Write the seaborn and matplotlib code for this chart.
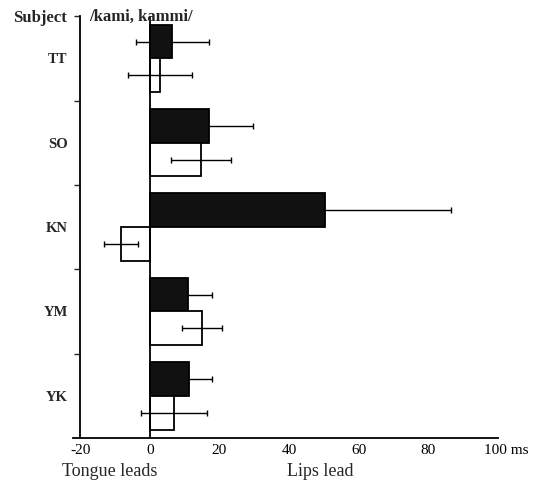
import matplotlib
matplotlib.use("Agg")
import matplotlib.pyplot as plt
from matplotlib.transforms import ScaledTranslation
import seaborn as sns
import pandas as pd
import numpy as np

subjects = ["TT", "SO", "KN", "YM", "YK"]
conditions = ["kami", "kammi"]
kami_mean = [6.5, 16.9, 50.4, 10.9, 11.2]
kami_sd = [10.5, 12.6, 36.1, 6.9, 6.6]
kammi_mean = [3.0, 14.6, -8.3, 15.0, 6.9]
kammi_sd = [9.2, 8.6, 5.0, 5.8, 9.5]
xticks = [-20, 0, 20, 40, 60, 80, 100]
xticklabels = ["-20", "0", "20", "40", "60", "80", "100 ms"]

df = pd.DataFrame({
    "subject": subjects * 2,
    "cond": ["kami"] * 5 + ["kammi"] * 5,
    "mean": kami_mean + kammi_mean,
    "sd": kami_sd + kammi_sd,
})

sns.set_style("white")
plt.rcParams["font.family"] = ["Liberation Serif", "DejaVu Serif"]

fig = plt.figure(figsize=(5.44, 4.91), dpi=100)
ax = fig.add_axes([0.1346, 0.108, 0.781, 0.859])

sns.barplot(data=df, y="subject", x="mean", hue="cond", order=subjects,
            hue_order=conditions, orient="h", palette=["#111111", "white"],
            edgecolor="black", linewidth=1.3, errorbar=None, legend=False, ax=ax)

for i, (cont, cond) in enumerate(zip(ax.containers, conditions)):
    for p in cont.patches:
        p.set_zorder(2)
    sub = df[df["cond"] == cond].set_index("subject").loc[subjects]
    centers = [p.get_y() + p.get_height() / 2 for p in cont.patches]
    ax.errorbar(sub["mean"].values, centers, xerr=sub["sd"].values, fmt="none",
                ecolor="black", elinewidth=1.0, capsize=2, capthick=1.0,
                zorder=1.5 if i == 0 else 5)

ax.axvline(0, color="black", lw=1.3, zorder=6)

ax.set_xlim(-22, 100)
ax.set_ylim(4.5, -0.5)
ax.spines["left"].set_position(("data", -20))
ax.spines["right"].set_visible(False)
ax.spines["top"].set_visible(False)
for s in ["left", "bottom"]:
    ax.spines[s].set_color("black")
    ax.spines[s].set_linewidth(1.3)

ax.set_xticks(xticks)
ax.set_xticklabels(xticklabels, fontsize=11)
ax.tick_params(axis="x", direction="in", length=5, width=1.0, pad=4, colors="black")
last = ax.get_xticklabels()[-1]
last.set_horizontalalignment("left")
last.set_transform(last.get_transform() + ScaledTranslation(-14 / 100, 0, fig.dpi_scale_trans))

ax.set_yticks(range(len(subjects)))
ax.set_yticklabels(subjects, fontsize=10.5, fontweight="bold")
ax.tick_params(axis="y", which="major", length=0, pad=9)
ax.set_yticks(np.arange(-0.5, 4.0, 1.0), minor=True)
ax.set_yticklabels(["Subject", "", "", "", ""], minor=True, fontsize=12, fontweight="bold")
ax.tick_params(axis="y", which="minor", direction="out", length=4.5, width=1.0, pad=5, left=True)

ax.set_xlabel("")
ax.set_ylabel("")

fig.text(89 / 544, 1 - 17 / 491, "/kami, kammi/", ha="left", va="center", fontsize=12,
         fontweight="bold")
fig.text(62 / 544, 1 - 472 / 491, "Tongue leads", ha="left", va="center", fontsize=13)
fig.text(320 / 544, 1 - 472 / 491, "Lips lead", ha="center", va="center", fontsize=13)

fig.savefig("out.png", dpi=100)
